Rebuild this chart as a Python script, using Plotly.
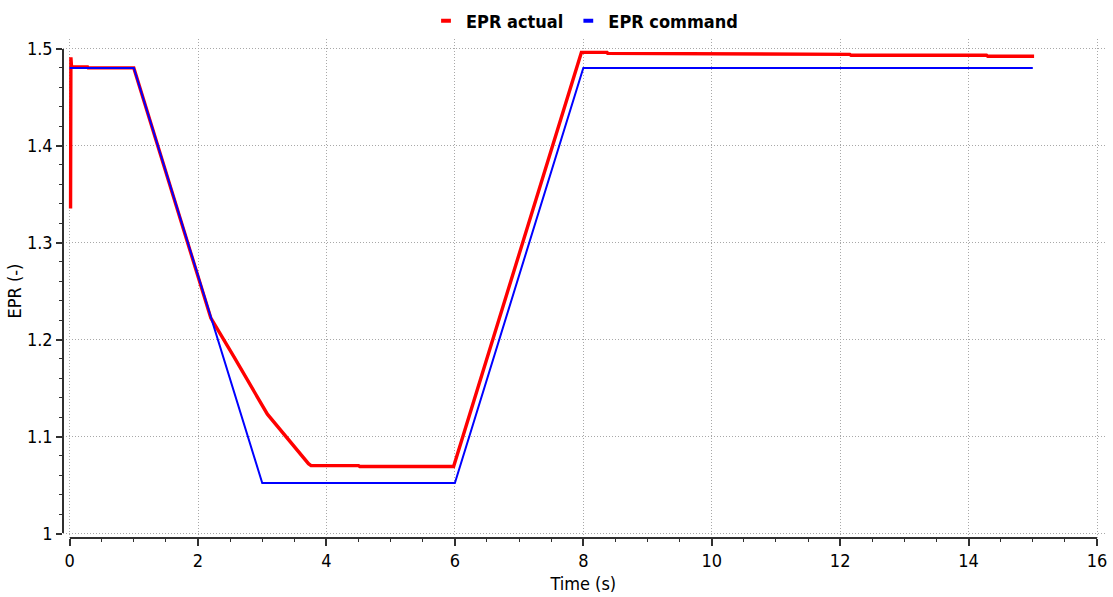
import plotly.graph_objects as go

# EPR command (blue)
t_cmd = [0.0, 1.0, 3.0, 6.0, 8.0, 15.0]
epr_cmd = [1.480, 1.480, 1.052, 1.052, 1.480, 1.480]

# EPR actual (red)
t_act = [0.015, 0.02, 0.025, 0.03, 0.28, 0.29, 1.0, 2.2, 2.56, 3.08, 3.72, 3.76, 4.5, 4.52,
         5.98, 7.97, 8.37, 8.38, 12.15, 12.17, 14.28, 14.30, 15.02]
epr_act = [1.335, 1.491, 1.470, 1.481, 1.481, 1.480, 1.480, 1.222, 1.182, 1.123, 1.072, 1.070,
           1.070, 1.069, 1.069, 1.496, 1.496, 1.495, 1.494, 1.493, 1.493, 1.492, 1.492]

x_ticks = [0, 2, 4, 6, 8, 10, 12, 14, 16]
y_ticks = [1.0, 1.1, 1.2, 1.3, 1.4, 1.5]
y_labels = ["1", "1.1", "1.2", "1.3", "1.4", "1.5"]

FONT = "DejaVu Sans Condensed, Liberation Sans Narrow, sans-serif"
RED = "#ff0000"
BLUE = "#0000ff"
GRID = "#a8a8a8"
AX = "#303030"

fig = go.Figure()
fig.add_trace(go.Scatter(x=t_act, y=epr_act, mode="lines", name="EPR actual",
                         line=dict(color=RED, width=3.4), showlegend=False))
fig.add_trace(go.Scatter(x=t_cmd, y=epr_cmd, mode="lines", name="EPR command",
                         line=dict(color=BLUE, width=2), showlegend=False))
# legend entries (short dash symbols), attached to the detached tick axes
fig.add_trace(go.Scatter(x=[None], y=[None], mode="markers", name="EPR actual",
                         xaxis="x2", yaxis="y2",
                         marker=dict(symbol="line-ew", size=7, line=dict(color=RED, width=4))))
fig.add_trace(go.Scatter(x=[None], y=[None], mode="markers", name="EPR command",
                         xaxis="x2", yaxis="y2",
                         marker=dict(symbol="line-ew", size=7, line=dict(color=BLUE, width=4))))

fig.update_layout(
    width=1113, height=597,
    margin=dict(l=62.7, r=7, t=39, b=59, autoexpand=False),
    paper_bgcolor="white", plot_bgcolor="rgba(0,0,0,0)",
    font=dict(family=FONT, size=18, color="black"),
    showlegend=True,
    legend=dict(orientation="h", x=0.5, xanchor="center", y=1.036, yanchor="middle",
                font=dict(family=FONT, size=18, color="black", weight="bold"),
                itemwidth=30, tracegroupgap=0, bgcolor="rgba(0,0,0,0)"),
    # grid-only axes covering the whole plot area
    xaxis=dict(range=[-0.1028, 16.14], tickmode="array", tickvals=x_ticks,
               showticklabels=False, ticks="", showline=False, zeroline=False,
               showgrid=True, gridcolor=GRID, griddash="1px,2px", gridwidth=1,
               automargin=False),
    yaxis=dict(range=[0.99536, 1.5098], tickmode="array", tickvals=y_ticks,
               showticklabels=False, ticks="", showline=False, zeroline=False,
               showgrid=True, gridcolor=GRID, griddash="1px,2px", gridwidth=1,
               automargin=False),
    # detached axes with ticks and labels
    xaxis2=dict(domain=[0.00633, 0.99137], range=[0, 16], anchor="free", position=0,
                tickmode="array", tickvals=x_ticks, showgrid=False, zeroline=False,
                showline=True, linecolor=AX, linewidth=1.5,
                ticks="outside", ticklen=7, tickcolor=AX, tickwidth=1.5,
                minor=dict(dtick=0.5, tick0=0, ticks="outside", ticklen=3.5,
                           tickcolor=AX, tickwidth=1.3, showgrid=False),
                title=dict(text="Time (s)", standoff=6, font=dict(size=18)),
                tickfont=dict(size=18), automargin=False),
    yaxis2=dict(domain=[0.00902, 0.98096], range=[1.0, 1.5], anchor="free", position=0,
                tickmode="array", tickvals=y_ticks, ticktext=y_labels,
                showgrid=False, zeroline=False,
                showline=True, linecolor=AX, linewidth=1.5,
                ticks="outside", ticklen=6, tickcolor=AX, tickwidth=1.5,
                minor=dict(dtick=0.02, tick0=1.0, ticks="outside", ticklen=3,
                           tickcolor=AX, tickwidth=1.3, showgrid=False),
                title=dict(text="EPR (-)", standoff=0, font=dict(size=18)),
                tickfont=dict(size=18), automargin=False),
)

fig.write_html("out.html")
